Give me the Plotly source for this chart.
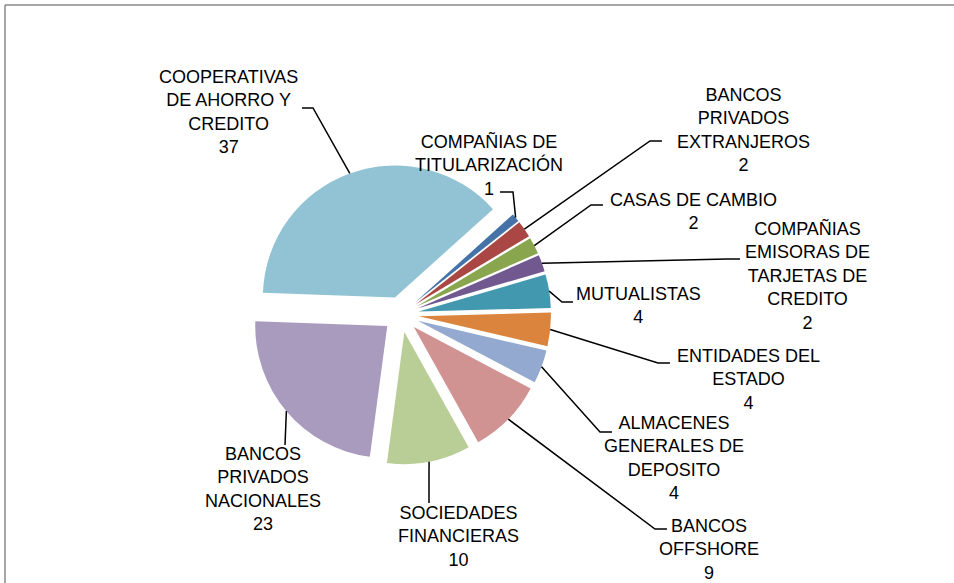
import math
import plotly.graph_objects as go

# ---------------- data ----------------
categories = [
    "COMPAÑIAS DE TITULARIZACIÓN",
    "BANCOS PRIVADOS EXTRANJEROS",
    "CASAS DE CAMBIO",
    "COMPAÑIAS EMISORAS DE TARJETAS DE CREDITO",
    "MUTUALISTAS",
    "ENTIDADES DEL ESTADO",
    "ALMACENES GENERALES DE DEPOSITO",
    "BANCOS OFFSHORE",
    "SOCIEDADES FINANCIERAS",
    "BANCOS PRIVADOS NACIONALES",
    "COOPERATIVAS DE AHORRO Y CREDITO",
]
values = [1, 2, 2, 2, 4, 4, 4, 9, 10, 23, 37]
label_lines = [
    ["COMPAÑIAS DE", "TITULARIZACIÓN"],
    ["BANCOS", "PRIVADOS", "EXTRANJEROS"],
    ["CASAS DE CAMBIO"],
    ["COMPAÑIAS", "EMISORAS DE", "TARJETAS DE", "CREDITO"],
    ["MUTUALISTAS"],
    ["ENTIDADES DEL", "ESTADO"],
    ["ALMACENES", "GENERALES DE", "DEPOSITO"],
    ["BANCOS", "OFFSHORE"],
    ["SOCIEDADES", "FINANCIERAS"],
    ["BANCOS", "PRIVADOS", "NACIONALES"],
    ["COOPERATIVAS", "DE AHORRO Y", "CREDITO"],
]

# ---------------- style / layout ----------------
colors = ["#4572A7", "#AA4643", "#89A54E", "#71588F", "#4198AF", "#DB843D",
          "#93A9CF", "#D19392", "#B9CD96", "#A99BBD", "#91C3D5"]

W, H = 954, 583
CX, CY = 401.0, 314.4      # pie centre (px)
HALF = 150.0               # half size of pie box (px) = r * (1 + pull)
PULL = 0.136
ROT = 48                   # start angle, clockwise from 12 o'clock
FONT = dict(family="Liberation Sans, Arial, sans-serif", size=18, color="#000000")

# label centres (px) and the label-side points of each leader line (px)
label_pos = [(489, 165), (743, 130), (693, 211), (807, 275), (638, 305), (748, 379),
             (674, 458), (709, 549), (458, 536), (263, 489), (228, 112)]
leader_pts = [
    [(513, 192), (500, 192)],
    [(650, 141), (662, 141)],
    [(591, 205), (603, 205)],
    [(727, 259), (740, 259)],
    [(562, 302), (573, 302)],
    [(658, 363), (670, 363)],
    [(600, 432), (612, 432)],
    [(655, 529), (667, 529)],
    [(429, 503)],
    [(285, 445)],
    [(313, 108), (302, 108)],
]


def px(x):
    return x / W


def py(y):
    return 1 - y / H


fig = go.Figure()
fig.add_trace(go.Pie(
    labels=categories,
    values=values,
    sort=False,
    direction="clockwise",
    rotation=ROT,
    pull=[PULL] * len(values),
    marker=dict(colors=colors, line=dict(width=0)),
    textinfo="none",
    hoverinfo="label+value",
    showlegend=False,
    domain=dict(x=[px(CX - HALF), px(CX + HALF)], y=[py(CY + HALF), py(CY - HALF)]),
))

total = sum(values)
shapes = []
annotations = []
cum = 0
for i, v in enumerate(values):
    mid = math.radians(ROT + (cum + v / 2) / total * 360)
    cum += v
    ax = CX + HALF * math.sin(mid)
    ay = CY - HALF * math.cos(mid)
    pts = [(ax, ay)] + leader_pts[i]
    path = "M " + " L ".join(f"{px(x):.5f},{py(y):.5f}" for x, y in pts)
    shapes.append(dict(type="path", xref="paper", yref="paper", path=path,
                       line=dict(color="#000000", width=1.5)))
    lx, ly = label_pos[i]
    text = "<br>".join(label_lines[i] + [str(v)])
    annotations.append(dict(x=px(lx), y=py(ly), xref="paper", yref="paper",
                            text=text, showarrow=False, xanchor="center",
                            yanchor="middle", align="center", font=FONT))

# chart frame (top and left edges visible)
frame = "#8A8A8A"
shapes.append(dict(type="line", xref="paper", yref="paper", x0=px(5), y0=py(5), x1=px(W + 10), y1=py(5),
                   line=dict(color=frame, width=1.5)))
shapes.append(dict(type="line", xref="paper", yref="paper", x0=px(5), y0=py(5), x1=px(5), y1=py(H + 10),
                   line=dict(color=frame, width=1.5)))

fig.update_layout(
    width=W, height=H,
    margin=dict(l=0, r=0, t=0, b=0),
    paper_bgcolor="#FFFFFF",
    plot_bgcolor="#FFFFFF",
    shapes=shapes,
    annotations=annotations,
)

fig.write_html(
    "out.html",
    config={"displayModeBar": False},
    post_script="document.body.style.margin='0';document.body.style.padding='0';"
                "document.body.style.overflow='hidden';",
)
